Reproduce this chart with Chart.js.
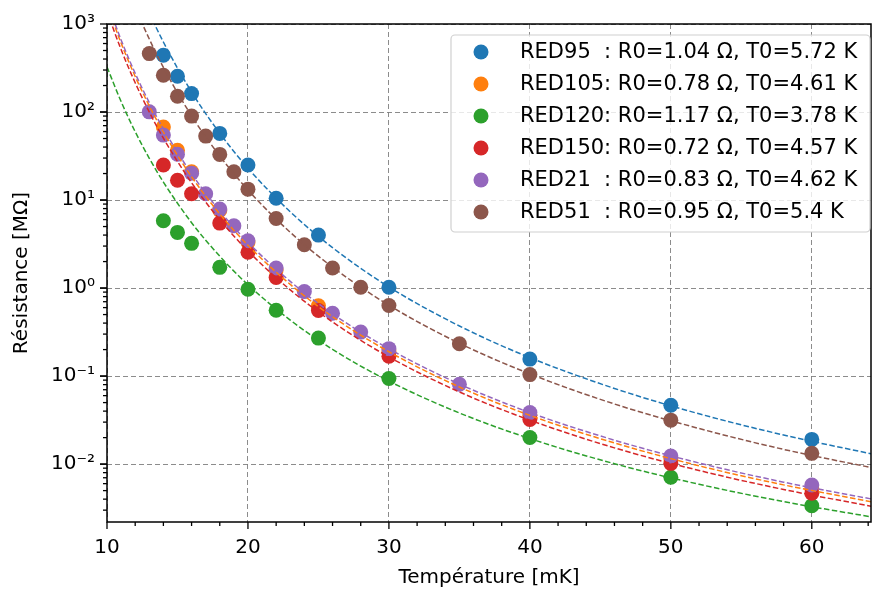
<!DOCTYPE html>
<html>
<head>
<meta charset="utf-8">
<script src="https://cdn.jsdelivr.net/npm/chart.js@4.4.0/dist/chart.umd.min.js"></script>
<style>
  body { margin: 0; background: #fff; }
  canvas { display: block; }
</style>
</head>
<body>
<canvas id="myChart" width="872" height="590"></canvas>
<script>
// measured points (T in mK, R in MOhm)
const samples = ['RED95', 'RED105', 'RED120', 'RED150', 'RED21', 'RED51'];
const legendLabels = [
    'RED95  : R0=1.04 \u03A9, T0=5.72 K',
    'RED105: R0=0.78 \u03A9, T0=4.61 K',
    'RED120: R0=1.17 \u03A9, T0=3.78 K',
    'RED150: R0=0.72 \u03A9, T0=4.57 K',
    'RED21  : R0=0.83 \u03A9, T0=4.62 K',
    'RED51  : R0=0.95 \u03A9, T0=5.4 K'
];
const colors = ['#1f77b4', '#ff7f0e', '#2ca02c', '#d62728', '#9467bd', '#8c564b'];

const T_std = [14, 15, 16, 18, 20, 22, 25, 30, 40, 50, 60];
const T_fine = [13, 14, 15, 16, 17, 18, 19, 20, 22, 24, 26, 28, 30, 35, 40, 50, 60];

const R_red95  = [441, 255, 162, 57.2, 25.0, 10.5, 4.0, 1.02, 0.156, 0.0467, 0.0191];
const R_red105 = [67.5, 36.7, 21, 7.6, 3.3, 1.6, 0.63, 0.19, 0.036, 0.0115, 0.0053];
const R_red120 = [5.81, 4.29, 3.22, 1.72, 0.97, 0.56, 0.27, 0.094, 0.0201, 0.00709, 0.00336];
const R_red150 = [25.0, 16.8, 11.8, 5.47, 2.55, 1.32, 0.556, 0.168, 0.0322, 0.0102, 0.00467];
const R_red21  = [100.5, 54.7, 33.1, 20.2, 11.8, 7.89, 5.1, 3.45, 1.69, 0.912, 0.518, 0.316, 0.205, 0.0807, 0.0386, 0.01235, 0.0058];
const R_red51  = [461, 262, 151, 89.9, 53.3, 33.0, 21.0, 13.3, 6.17, 3.11, 1.69, 1.02, 0.634, 0.233, 0.104, 0.0316, 0.01325];

// fitted curves
const T_fit = [10, 11, 12, 13, 14, 16, 18, 20, 23, 26, 30, 35, 40, 46, 52, 58, 64.5];
const F_red95  = [25300, 8340, 3155, 1340, 624, 169, 57.4, 23.0, 7.35, 2.88, 1.03, 0.371, 0.162, 0.0724, 0.0373, 0.0214, 0.0128];
const F_red105 = [1648, 607, 253.6, 117.5, 59.3, 18.4, 6.95, 3.06, 1.10, 0.473, 0.189, 0.0752, 0.0358, 0.0174, 0.00957, 0.00581, 0.00366];
const F_red120 = [325, 131.5, 59.7, 29.8, 16.0, 5.53, 2.30, 1.09, 0.433, 0.201, 0.0877, 0.0381, 0.0195, 0.0101, 0.0059, 0.00375, 0.00247];
const F_red150 = [1384, 512, 215, 100, 50.5, 15.7, 5.98, 2.64, 0.953, 0.412, 0.165, 0.0661, 0.0316, 0.0153, 0.00847, 0.00515, 0.00326];
const F_red21  = [1795, 659, 275, 128, 64.3, 19.9, 7.53, 3.31, 1.19, 0.511, 0.204, 0.0811, 0.0385, 0.0187, 0.0103, 0.00624, 0.00394];
const F_red51  = [11750, 3980, 1552, 675, 321, 90.4, 31.6, 13.0, 4.30, 1.73, 0.638, 0.236, 0.106, 0.0482, 0.0254, 0.0147, 0.00895];

const pointT = [T_std, T_std, T_std, T_std, T_fine, T_fine];
const pointR = [R_red95, R_red105, R_red120, R_red150, R_red21, R_red51];
const fitR = [F_red95, F_red105, F_red120, F_red150, F_red21, F_red51];

const xTicks = [10, 20, 30, 40, 50, 60];
const yTicks = [1e-2, 1e-1, 1e0, 1e1, 1e2, 1e3];
const yTickLabels = ['10\u207B\u00B2', '10\u207B\u00B9', '10\u2070', '10\u00B9', '10\u00B2', '10\u00B3'];

function xy(xs, ys) {
    return xs.map(function (x, i) { return { x: x, y: ys[i] }; });
}

var datasets = [];
for (var i = 0; i < samples.length; i++) {
    datasets.push({
        label: legendLabels[i],
        data: xy(pointT[i], pointR[i]),
        backgroundColor: colors[i],
        borderWidth: 0,
        pointRadius: 7.5,
        pointHoverRadius: 7.5,
        showLine: false,
        order: 100 - i
    });
    datasets.push({
        label: samples[i] + ' fit',
        data: xy(T_fit, fitR[i]),
        borderColor: colors[i],
        borderWidth: 1.5,
        borderDash: [5.5, 2.5],
        pointRadius: 0,
        showLine: true,
        cubicInterpolationMode: 'monotone',
        order: 50 - i
    });
}

const FONT = "'DejaVu Sans', sans-serif";

// ticks, spines and legend drawn like matplotlib
const decor = {
    id: 'decor',
    afterDraw(chart) {
        const ctx = chart.ctx;
        const a = chart.chartArea;
        const xs = chart.scales.x, ys = chart.scales.y;
        ctx.save();
        ctx.strokeStyle = '#000';
        ctx.lineWidth = 1.3;
        // x ticks
        for (var t = 10; t <= 64; t += 2) {
            var px = xs.getPixelForValue(t);
            var len = (t % 10 === 0) ? 7 : 4;
            ctx.beginPath();
            ctx.moveTo(px, a.bottom);
            ctx.lineTo(px, a.bottom + len);
            ctx.stroke();
        }
        // y ticks
        for (var e = -3; e <= 2; e++) {
            for (var k = 1; k <= 10; k++) {
                var v = k * Math.pow(10, e);
                if (v < ys.min || v > ys.max * 1.0001) continue;
                var py = ys.getPixelForValue(v);
                var l2 = (k === 1 || k === 10) ? 7 : 4;
                ctx.beginPath();
                ctx.moveTo(a.left, py);
                ctx.lineTo(a.left - l2, py);
                ctx.stroke();
            }
        }
        ctx.lineWidth = 1.5;
        ctx.strokeRect(a.left, a.top, a.right - a.left, a.bottom - a.top);

        // legend
        const bx = 451, by = 35, bw = 419, bh = 197;
        ctx.beginPath();
        ctx.roundRect(bx, by, bw, bh, 4);
        ctx.fillStyle = 'rgba(255,255,255,0.8)';
        ctx.fill();
        ctx.strokeStyle = '#d0d0d0';
        ctx.lineWidth = 1.2;
        ctx.stroke();
        ctx.font = '21px ' + FONT;
        ctx.textBaseline = 'middle';
        ctx.fillStyle = '#000';
        for (var j = 0; j < legendLabels.length; j++) {
            var cy = 52 + j * 32;
            ctx.beginPath();
            ctx.arc(481, cy, 7.5, 0, Math.PI * 2);
            ctx.fillStyle = colors[j];
            ctx.fill();
            ctx.fillStyle = '#000';
            ctx.fillText(legendLabels[j], 520, cy + 1);
        }
        ctx.restore();
    }
};

new Chart(document.getElementById('myChart'), {
    type: 'scatter',
    data: { datasets: datasets },
    options: {
        responsive: false,
        animation: false,
        events: [],
        layout: { padding: { top: 22, right: 1, left: 0, bottom: 0 }, autoPadding: false },
        plugins: { legend: { display: false }, tooltip: { enabled: false } },
        scales: {
            x: {
                type: 'linear',
                min: 10,
                max: 64.2,
                afterBuildTicks: function (s) { s.ticks = xTicks.map(function (v) { return { value: v }; }); },
                afterFit: function (s) { s.height = 68; },
                ticks: { font: { family: FONT, size: 20 }, color: '#000', padding: 14, maxRotation: 0 },
                grid: { color: 'rgba(128,128,128,0.9)', lineWidth: 1, drawTicks: false },
                border: { display: false, dash: [5, 3] },
                title: { display: true, text: 'Temp\u00E9rature [mK]', font: { family: FONT, size: 20 }, color: '#000', padding: { top: 2, bottom: 0 } }
            },
            y: {
                type: 'logarithmic',
                min: 0.0022,
                max: 1000,
                afterBuildTicks: function (s) { s.ticks = yTicks.map(function (v) { return { value: v }; }); },
                afterFit: function (s) { s.width = 107; },
                ticks: {
                    font: { family: FONT, size: 20 }, color: '#000', padding: 12,
                    callback: function (v) { var n = yTicks.indexOf(v); return n >= 0 ? yTickLabels[n] : ''; }
                },
                grid: { color: 'rgba(128,128,128,0.9)', lineWidth: 1, drawTicks: false },
                border: { display: false, dash: [5, 3] },
                title: { display: true, text: 'R\u00E9sistance [M\u03A9]', font: { family: FONT, size: 20 }, color: '#000', padding: { top: 10, bottom: 0 } }
            }
        }
    },
    plugins: [decor]
});
</script>
</body>
</html>
